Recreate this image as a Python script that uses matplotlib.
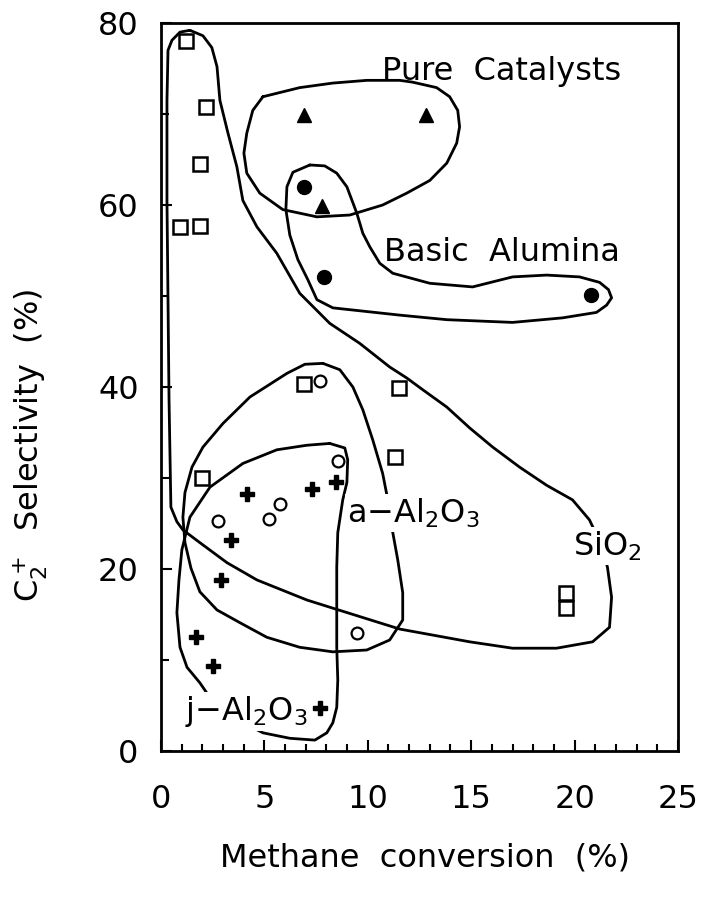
import matplotlib
matplotlib.use("Agg")
import matplotlib.pyplot as plt

plt.rcParams['font.family'] = ['DejaVu Sans']
plt.rcParams['mathtext.default'] = 'regular'

# measured points (methane conversion %, C2+ selectivity %)
sio2_x = [1.2, 2.2, 1.9, 0.9, 1.9, 2.0, 6.9, 11.5, 11.3, 19.6, 19.6]
sio2_y = [78.0, 70.8, 64.5, 57.6, 57.7, 30.0, 40.3, 39.9, 32.3, 17.4, 15.7]

pure_x = [6.9, 12.8, 7.8]
pure_y = [69.9, 69.9, 59.9]

basic_x = [6.9, 7.9, 20.8]
basic_y = [62.0, 52.1, 50.1]

alpha_x = [7.7, 8.55, 5.75, 5.2, 2.75, 9.5]
alpha_y = [40.7, 31.9, 27.2, 25.5, 25.3, 13.0]

gamma_x = [8.45, 7.3, 4.15, 3.4, 2.9, 1.7, 2.5, 7.7]
gamma_y = [29.6, 28.8, 28.2, 23.2, 18.8, 12.5, 9.3, 4.7]

# hand-drawn group outlines
sio2_line_x = [1.40, 2.03, 2.46, 2.71, 2.85, 3.24, 3.67, 3.96, 4.64, 5.60, 6.71, 8.16,
               9.61, 11.06, 11.88, 12.66, 13.82, 14.93, 16.04, 17.34, 18.65, 19.90,
               20.72, 21.30, 21.59, 21.79, 21.69, 20.87, 19.13, 17.00, 14.93, 11.55,
               8.31, 7.05, 4.64, 3.19, 1.88, 1.06, 0.77, 0.48, 0.39, 0.34, 0.29, 0.29,
               0.34, 0.53, 0.92, 1.40]
sio2_line_y = [79.2, 78.6, 77.3, 75.2, 71.5, 67.9, 64.2, 60.5, 57.6, 54.7, 50.3, 47.0,
               44.8, 42.2, 41.0, 39.7, 37.8, 35.5, 33.4, 31.2, 29.2, 27.6,
               25.4, 22.6, 20.2, 16.9, 13.6, 12.0, 11.3, 11.3, 12.0, 13.4,
               15.7, 16.6, 18.8, 20.7, 22.9, 24.3, 25.2, 26.8, 38.6, 49.6, 60.5, 71.5,
               77.0, 78.1, 79.0, 79.2]

pure_line_x = [4.93, 6.71, 8.31, 9.95, 11.55, 12.17, 13.33, 13.96, 14.35, 14.44, 14.30,
               13.82, 13.00, 11.88, 10.72, 9.13, 7.54, 5.89, 4.78, 4.15, 4.01, 4.15,
               4.44, 4.93]
pure_line_y = [71.9, 72.9, 73.4, 73.7, 73.7, 73.5, 72.9, 71.9, 70.4, 68.6, 66.8,
               64.6, 62.7, 61.3, 60.0, 58.9, 58.7, 59.5, 61.3, 63.5, 65.7, 67.9,
               70.4, 71.9]

basic_line_x = [7.20, 7.92, 8.50, 8.99, 9.47, 9.76, 10.10, 10.58, 11.21, 13.00, 15.07,
                17.00, 18.65, 20.24, 21.21, 21.64, 21.79, 21.55, 21.06, 19.42, 17.00,
                13.82, 11.55, 8.31, 7.54, 7.10, 6.62, 6.23, 6.04, 6.09, 6.38, 7.20]
basic_line_y = [64.4, 64.3, 63.5, 62.0, 59.1, 56.9, 55.4, 53.6, 52.5, 51.4, 51.0,
                52.1, 52.3, 52.1, 51.5, 50.7, 49.8, 49.0, 48.2, 47.6, 47.1,
                47.4, 47.9, 48.7, 49.6, 51.8, 54.0, 56.7, 59.5, 62.0, 63.6, 64.4]

alpha_line_x = [7.83, 8.65, 9.28, 9.76, 10.24, 10.72, 10.97, 11.21, 11.45, 11.69, 11.69,
                11.06, 9.95, 8.31, 6.71, 5.12, 3.82, 2.71, 1.88, 1.45, 1.16, 1.06,
                1.16, 1.50, 2.03, 3.00, 4.30, 6.09, 6.96, 7.83]
alpha_line_y = [42.6, 41.9, 40.0, 37.5, 34.2, 30.5, 27.6, 24.0, 21.0, 17.4, 14.4,
                12.2, 11.1, 10.9, 11.4, 12.5, 14.1, 15.5, 17.5, 20.1, 22.9, 25.7,
                28.4, 31.2, 33.4, 36.0, 38.9, 41.5, 42.5, 42.6]

gamma_line_x = [8.16, 8.89, 9.03, 8.99, 8.79, 8.55, 8.50, 8.50, 8.50, 8.55, 8.50, 8.31,
                8.02, 7.44, 6.23, 4.93, 3.57, 2.27, 1.88, 1.26, 0.92, 0.77, 0.87,
                1.01, 1.40, 2.37, 3.96, 5.60, 7.05, 8.16]
gamma_line_y = [33.8, 33.3, 32.0, 29.5, 27.6, 24.0, 20.2, 16.6, 11.4, 7.8, 4.8, 3.1,
                2.0, 1.2, 1.4, 2.0, 3.6, 6.2, 7.5, 9.2, 11.4, 15.2, 18.8,
                22.1, 25.7, 29.0, 31.6, 33.1, 33.6, 33.8]

x_ticks = [0, 5, 10, 15, 20, 25]
y_ticks = [0, 20, 40, 60, 80]

fig = plt.figure(figsize=(7.06, 8.99), dpi=100)
ax = fig.add_axes([0.228, 0.1646, 0.7323, 0.8098])

outlines = [(sio2_line_x, sio2_line_y), (pure_line_x, pure_line_y),
            (basic_line_x, basic_line_y), (alpha_line_x, alpha_line_y),
            (gamma_line_x, gamma_line_y)]
for lx, ly in outlines:
    ax.plot(lx, ly, color='black', lw=2.0, solid_joinstyle='round',
            solid_capstyle='round', zorder=2)

ax.plot(sio2_x, sio2_y, ls='none', marker='s', ms=10, mfc='white', mec='black',
        mew=1.8, zorder=4)
ax.plot(pure_x, pure_y, ls='none', marker='^', ms=10, color='black', zorder=4)
ax.plot(basic_x, basic_y, ls='none', marker='o', ms=10, color='black', zorder=4)
ax.plot(alpha_x, alpha_y, ls='none', marker='o', ms=8.5, mfc='white', mec='black',
        mew=1.6, zorder=4)
ax.plot(gamma_x, gamma_y, ls='none', marker='P', ms=10, color='black', zorder=4)

fs = 23
hide = dict(facecolor='white', edgecolor='none', pad=1.5)
ax.text(10.7, 74.7, 'Pure  Catalysts', fontsize=fs, va='center', ha='left')
ax.text(10.8, 54.8, 'Basic  Alumina', fontsize=fs, va='center', ha='left')
ax.text(9.0, 25.1, 'a\u2212Al$_2$O$_3$', fontsize=fs, va='baseline', ha='left',
        bbox=hide, zorder=3)
ax.text(19.9, 21.5, 'SiO$_2$', fontsize=fs, va='baseline', ha='left',
        bbox=hide, zorder=3)
ax.text(1.16, 3.4, 'j\u2212Al$_2$O$_3$', fontsize=fs, va='baseline', ha='left',
        bbox=hide, zorder=3)

ax.set_xlim(0, 25)
ax.set_ylim(0, 80)
ax.set_xticks(x_ticks)
ax.set_yticks(y_ticks)
ax.set_xticks(range(0, 25), minor=True)
ax.set_yticks(range(10, 80, 20), minor=True)
ax.tick_params(which='both', direction='in', top=False, right=False,
               width=1.5, labelsize=fs)
ax.tick_params(axis='x', which='major', length=8, pad=24)
ax.tick_params(axis='x', which='minor', length=5)
ax.tick_params(axis='y', which='major', length=8, pad=16)
ax.tick_params(axis='y', which='minor', length=6)
for s in ax.spines.values():
    s.set_linewidth(2.0)

ax.set_xlabel('Methane  conversion  (%)', fontsize=fs)
ax.xaxis.set_label_coords(0.511, -0.147)
ax.xaxis.label.set_va('center')
ax.set_ylabel('C$_2^+$  Selectivity  (%)', fontsize=fs)
ax.yaxis.set_label_coords(-0.253, 0.42)
ax.yaxis.label.set_va('center')

fig.savefig('out.png', dpi=100)
